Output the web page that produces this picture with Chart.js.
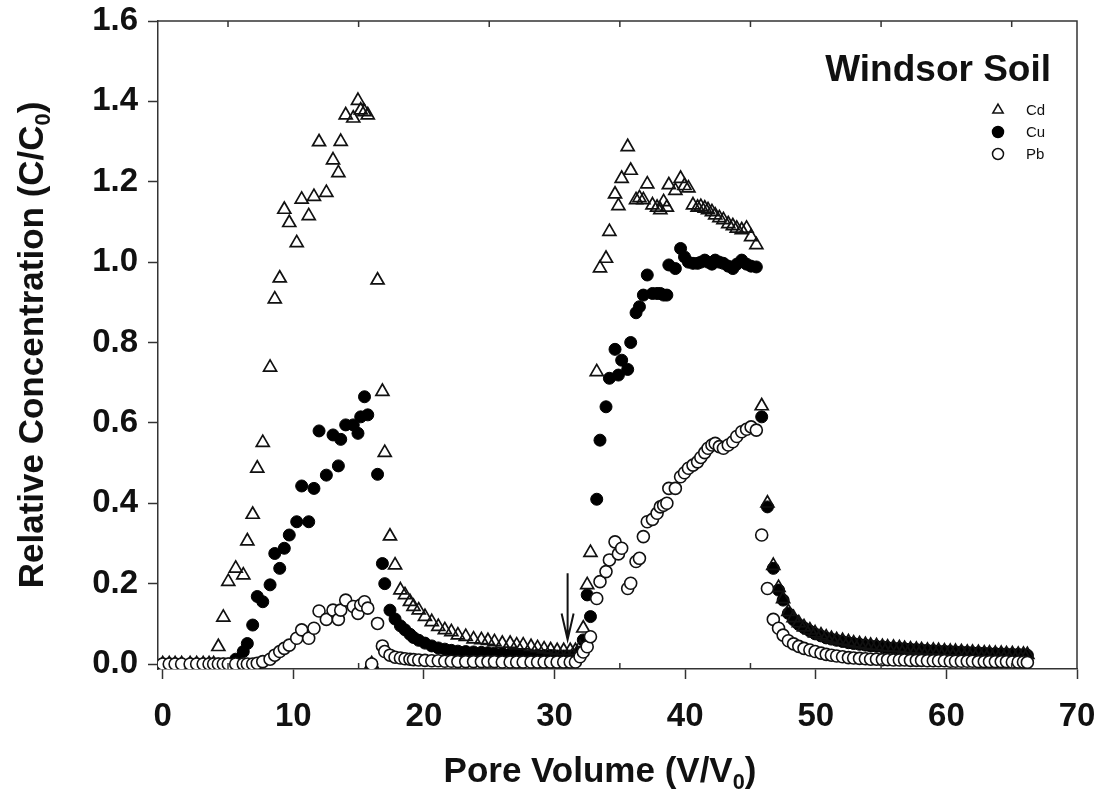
<!DOCTYPE html>
<html>
<head>
<meta charset="utf-8">
<script src="https://cdn.jsdelivr.net/npm/chart.js@4.4.1/dist/chart.umd.min.js"></script>
<style>
    html, body { margin: 0; padding: 0; background: #fff; }
    #wrap { width: 1099px; height: 796px; position: relative; }
</style>
</head>
<body>
<div id="wrap"><canvas id="chart"></canvas></div>
<script>
// pore volume (V/V0) of each effluent sample, shared by the three metals
const poreVolume = [
    0.0, 0.5, 0.95, 1.45, 2.1, 2.6, 3.1, 3.55, 3.9,
    4.26, 4.64, 5.02, 5.59, 6.17, 6.48, 6.89, 7.24, 7.66, 8.22,
    8.58, 8.96, 9.31, 9.69, 10.26, 10.64, 11.18, 11.58, 11.97, 12.53,
    13.04, 13.45, 13.63, 14.01, 14.59, 14.95, 15.16, 15.45, 15.7, 16.0,
    16.45, 16.82, 17.0, 17.4, 17.79, 18.2, 18.55, 18.93, 19.2, 19.6, 20.08,
    20.6, 21.1, 21.6, 22.1, 22.6, 23.2, 23.8, 24.4, 24.9, 25.4, 26.0,
    26.6, 27.1, 27.6, 28.2, 28.7, 29.2, 29.7, 30.2, 30.7, 31.2, 31.6,
    31.95, 32.2, 32.5, 32.75, 33.23, 33.48, 33.94, 34.2, 34.63, 34.89, 35.14,
    35.6, 35.83, 36.24, 36.5, 36.8, 37.1, 37.5, 37.85, 38.1, 38.35, 38.6,
    38.75, 39.25, 39.65, 39.95, 40.25, 40.6, 40.95, 41.2, 41.5, 41.75, 42.05,
    42.3, 42.62, 42.93, 43.3, 43.65, 43.95, 44.33, 44.7, 45.05, 45.45,
    45.86, 46.3, 46.75, 47.15, 47.5, 47.9, 48.3, 48.7, 49.1, 49.55,
    49.95, 50.4, 50.8, 51.2, 51.6, 52.05, 52.5, 52.9, 53.35, 53.8,
    54.2, 54.65, 55.1, 55.5, 55.95, 56.4, 56.8, 57.25, 57.7, 58.1,
    58.55, 59.0, 59.4, 59.85, 60.3, 60.7, 61.15, 61.6, 62.0, 62.45,
    62.9, 63.3, 63.75, 64.2, 64.6, 65.05, 65.5, 65.9, 66.2
];

// relative concentration C/C0
const cdConc = [
    0, 0, 0, 0, 0, 0, 0, 0, 0,
    0.043, 0.116, 0.205, 0.238, 0.221, 0.306, 0.372, 0.487, 0.551, 0.738,
    0.908, 0.960, 1.131, 1.098, 1.048, 1.156, 1.115, 1.163, 1.299, 1.173,
    1.254, 1.222, 1.300, 1.366, 1.358, 1.402, 1.378, 1.374, 1.366, 0,
    0.955, 0.678, 0.526, 0.318, 0.246, 0.184, 0.172, 0.155, 0.143, 0.134, 0.118,
    0.105, 0.093, 0.085, 0.080, 0.072, 0.068, 0.062, 0.060, 0.058, 0.055, 0.051,
    0.051, 0.047, 0.047, 0.043, 0.040, 0.037, 0.035, 0.033, 0.033, 0.033, 0.033,
    0.040, 0.089, 0.197, 0.277, 0.727, 0.985, 1.009, 1.076, 1.169, 1.140, 1.208,
    1.287, 1.228, 1.155, 1.160, 1.155, 1.194, 1.142, 1.136, 1.130, 1.150, 1.136,
    1.192, 1.178, 1.208, 1.190, 1.184, 1.142, 1.136, 1.138, 1.134, 1.130, 1.125,
    1.117, 1.110, 1.105, 1.095, 1.090, 1.084, 1.080, 1.084, 1.063, 1.043,
    0.642, 0.400, 0.245, 0.190, 0.162, 0.130, 0.115, 0.102, 0.092, 0.084,
    0.077, 0.072, 0.067, 0.063, 0.060, 0.058, 0.055, 0.052, 0.050, 0.048,
    0.046, 0.045, 0.043, 0.042, 0.041, 0.040, 0.038, 0.037, 0.036, 0.035,
    0.034, 0.034, 0.033, 0.032, 0.031, 0.031, 0.030, 0.029, 0.029, 0.028,
    0.027, 0.027, 0.026, 0.026, 0.025, 0.025, 0.024, 0.024, 0.023
];

const cuConc = [
    0, 0, 0, 0, 0, 0, 0, 0, 0,
    0, 0, 0, 0.012, 0.031, 0.051, 0.097, 0.168, 0.155, 0.197,
    0.275, 0.238, 0.288, 0.321, 0.354, 0.443, 0.354, 0.437, 0.580, 0.470,
    0.570, 0.493, 0.559, 0.595, 0.595, 0.574, 0.615, 0.665, 0.620, 0,
    0.472, 0.250, 0.200, 0.134, 0.112, 0.095, 0.085, 0.074, 0.066, 0.059, 0.052,
    0.045, 0.040, 0.037, 0.034, 0.032, 0.031, 0.030, 0.029, 0.028, 0.027, 0.026,
    0.025, 0.024, 0.023, 0.022, 0.022, 0.021, 0.021, 0.020, 0.020, 0.020, 0.021,
    0.030, 0.060, 0.172, 0.118, 0.410, 0.557, 0.640, 0.711, 0.783, 0.719, 0.756,
    0.733, 0.800, 0.874, 0.889, 0.918, 0.968, 0.922, 0.922, 0.922, 0.918, 0.918,
    0.993, 0.984, 1.034, 1.013, 1.000, 0.997, 0.997, 1.000, 1.005, 1.000, 0.995,
    1.005, 1.000, 0.997, 0.990, 0.984, 0.995, 1.005, 0.995, 0.990, 0.988,
    0.615, 0.391, 0.238, 0.184, 0.159, 0.126, 0.110, 0.098, 0.090, 0.082,
    0.075, 0.070, 0.065, 0.062, 0.059, 0.056, 0.053, 0.051, 0.049, 0.047,
    0.045, 0.044, 0.043, 0.041, 0.040, 0.039, 0.038, 0.037, 0.036, 0.035,
    0.034, 0.033, 0.032, 0.032, 0.031, 0.030, 0.030, 0.029, 0.028, 0.028,
    0.027, 0.026, 0.026, 0.025, 0.025, 0.024, 0.024, 0.023, 0.022
];

const pbConc = [
    0, 0, 0, 0, 0, 0, 0, 0, 0,
    0, 0, 0, 0, 0, 0, 0, 0.002, 0.006, 0.012,
    0.022, 0.031, 0.039, 0.047, 0.064, 0.085, 0.064, 0.089, 0.132, 0.111,
    0.134, 0.111, 0.134, 0.159, 0.143, 0.126, 0.147, 0.155, 0.139, 0,
    0.101, 0.045, 0.031, 0.022, 0.017, 0.015, 0.013, 0.012, 0.011, 0.010, 0.009,
    0.008, 0.008, 0.007, 0.007, 0.006, 0.006, 0.006, 0.006, 0.006, 0.006, 0.005,
    0.005, 0.005, 0.005, 0.005, 0.005, 0.005, 0.005, 0.005, 0.005, 0.005, 0.005,
    0.018, 0.030, 0.043, 0.068, 0.163, 0.205, 0.230, 0.259, 0.304, 0.274, 0.288,
    0.188, 0.201, 0.255, 0.263, 0.317, 0.354, 0.360, 0.375, 0.391, 0.395, 0.400,
    0.437, 0.437, 0.466, 0.476, 0.487, 0.495, 0.503, 0.514, 0.526, 0.537, 0.545,
    0.549, 0.541, 0.537, 0.545, 0.553, 0.566, 0.578, 0.584, 0.590, 0.582,
    0.321, 0.188, 0.111, 0.089, 0.072, 0.058, 0.050, 0.044, 0.039, 0.035,
    0.031, 0.027, 0.024, 0.022, 0.020, 0.018, 0.016, 0.015, 0.014, 0.013,
    0.012, 0.012, 0.011, 0.011, 0.010, 0.010, 0.010, 0.009, 0.009, 0.009,
    0.008, 0.008, 0.008, 0.008, 0.007, 0.007, 0.007, 0.007, 0.007, 0.006,
    0.006, 0.006, 0.006, 0.006, 0.006, 0.005, 0.005, 0.005, 0.004
];

const metals = ['Cd', 'Cu', 'Pb'];
const xTicks = [0, 10, 20, 30, 40, 50, 60, 70];
const xMinorTicks = [5, 15, 25, 35, 45, 55, 65];
const yTicks = [0, 0.2, 0.4, 0.6, 0.8, 1.0, 1.2, 1.4, 1.6];
// arrow marking the switch of input solution
const arrowPV = 31.0;
const arrowFrom = 0.226;
const arrowTo = 0.061;

const FONT = "'Liberation Sans', Arial, Helvetica, sans-serif";
const INK = '#111';

function toPoints(conc) {
    return poreVolume.map((pv, i) => ({ x: pv, y: conc[i] }));
}

// draws text where some parts are subscripts, centred on (cx, cy)
function drawRichText(ctx, parts, cx, cy, size) {
    let total = 0;
    parts.forEach(p => {
        ctx.font = 'bold ' + (p.sub ? size * 0.62 : size) + 'px ' + FONT;
        p.w = ctx.measureText(p.t).width;
        total += p.w;
    });
    let x = cx - total / 2;
    ctx.textAlign = 'left';
    ctx.textBaseline = 'middle';
    parts.forEach(p => {
        ctx.font = 'bold ' + (p.sub ? size * 0.62 : size) + 'px ' + FONT;
        ctx.fillText(p.t, x, p.sub ? cy + size * 0.32 : cy);
        x += p.w;
    });
}

const decorations = {
    id: 'decorations',
    afterDraw(chart) {
        const ctx = chart.ctx;
        const area = chart.chartArea;
        const xs = chart.scales.x;
        const ys = chart.scales.y;
        ctx.save();
        ctx.strokeStyle = '#333';
        ctx.lineWidth = 1.5;

        // top and right frame
        ctx.beginPath();
        ctx.moveTo(area.left, area.top);
        ctx.lineTo(area.right, area.top);
        ctx.lineTo(area.right, area.bottom);
        ctx.stroke();

        // minor ticks, pointing inwards
        ctx.beginPath();
        xMinorTicks.forEach(v => {
            const px = xs.getPixelForValue(v);
            ctx.moveTo(px, area.bottom);
            ctx.lineTo(px, area.bottom - 6);
            ctx.moveTo(px, area.top);
            ctx.lineTo(px, area.top + 6);
        });
        ctx.stroke();

        // arrow
        const ax = xs.getPixelForValue(arrowPV);
        const ay1 = ys.getPixelForValue(arrowFrom);
        const ay2 = ys.getPixelForValue(arrowTo);
        ctx.strokeStyle = INK;
        ctx.lineWidth = 2;
        ctx.beginPath();
        ctx.moveTo(ax, ay1);
        ctx.lineTo(ax, ay2);
        ctx.moveTo(ax - 6, ay2 - 26);
        ctx.lineTo(ax, ay2);
        ctx.lineTo(ax + 6, ay2 - 26);
        ctx.stroke();

        // panel label
        ctx.fillStyle = INK;
        ctx.font = 'bold 37px ' + FONT;
        ctx.textAlign = 'right';
        ctx.textBaseline = 'alphabetic';
        ctx.fillText('Windsor Soil', 1051, 81);

        // legend
        const rows = [110, 132, 154];
        chart.data.datasets.forEach(ds => {
            const sy = rows[metals.indexOf(ds.label)];
            ctx.fillStyle = ds.backgroundColor;
            ctx.strokeStyle = ds.borderColor;
            ctx.lineWidth = 1.5;
            Chart.helpers.drawPoint(ctx, {
                pointStyle: ds.pointStyle,
                radius: ds.pointStyle === 'triangle' ? 6 : 5.5,
                rotation: 0,
                borderWidth: 1.5
            }, 998, sy);
            ctx.fillStyle = INK;
            ctx.font = '15px ' + FONT;
            ctx.textAlign = 'left';
            ctx.textBaseline = 'middle';
            ctx.fillText(ds.label, 1026, sy + 1);
        });

        // axis titles with subscripts
        ctx.fillStyle = INK;
        drawRichText(ctx, [{ t: 'Pore Volume (V/V' }, { t: '0', sub: true }, { t: ')' }],
            600, 772, 35);
        ctx.save();
        ctx.translate(33, (area.top + area.bottom) / 2);
        ctx.rotate(-Math.PI / 2);
        drawRichText(ctx, [{ t: 'Relative Concentration (C/C' }, { t: '0', sub: true }, { t: ')' }],
            0, 0, 35);
        ctx.restore();

        ctx.restore();
    }
};

const tickFont = { family: FONT, size: 33, weight: 'bold' };

new Chart(document.getElementById('chart'), {
    type: 'scatter',
    data: {
        datasets: [
            {
                label: 'Pb',
                data: toPoints(pbConc),
                pointStyle: 'circle',
                pointRadius: 6,
                backgroundColor: '#ffffff',
                borderColor: INK,
                borderWidth: 1.6,
                order: 0
            },
            {
                label: 'Cd',
                data: toPoints(cdConc),
                pointStyle: 'triangle',
                pointRadius: 7.5,
                backgroundColor: 'rgba(0,0,0,0)',
                borderColor: INK,
                borderWidth: 1.7,
                order: 1
            },
            {
                label: 'Cu',
                data: toPoints(cuConc),
                pointStyle: 'circle',
                pointRadius: 6,
                backgroundColor: '#000000',
                borderColor: '#000000',
                borderWidth: 1,
                order: 2
            }
        ]
    },
    options: {
        responsive: true,
        maintainAspectRatio: false,
        animation: false,
        layout: { padding: { top: 21, right: 22, left: 0, bottom: 0 } },
        plugins: {
            legend: { display: false },
            tooltip: { enabled: false }
        },
        scales: {
            x: {
                type: 'linear',
                min: -0.36,
                max: 70,
                afterBuildTicks: scale => { scale.ticks = xTicks.map(v => ({ value: v })); },
                afterFit: scale => {
                    scale.height = 127;
                    scale.paddingLeft = 0;
                    scale.paddingRight = 0;
                },
                grid: { drawOnChartArea: false, drawTicks: true, tickLength: 10, tickWidth: 1.5, tickColor: '#333' },
                border: { color: '#333', width: 1.5 },
                ticks: {
                    color: INK,
                    font: tickFont,
                    padding: 18,
                    maxRotation: 0,
                    autoSkip: false,
                    callback: value => String(value)
                }
            },
            y: {
                type: 'linear',
                min: -0.0124,
                max: 1.6,
                afterBuildTicks: scale => { scale.ticks = yTicks.map(v => ({ value: v })); },
                afterFit: scale => {
                    scale.width = 158;
                    scale.paddingTop = 0;
                    scale.paddingBottom = 0;
                },
                grid: { drawOnChartArea: false, drawTicks: true, tickLength: 10, tickWidth: 1.5, tickColor: '#333' },
                border: { color: '#333', width: 1.5 },
                ticks: {
                    color: INK,
                    font: tickFont,
                    padding: 10,
                    autoSkip: false,
                    callback: value => Number(value).toFixed(1)
                }
            }
        }
    },
    plugins: [decorations]
});
</script>
</body>
</html>
